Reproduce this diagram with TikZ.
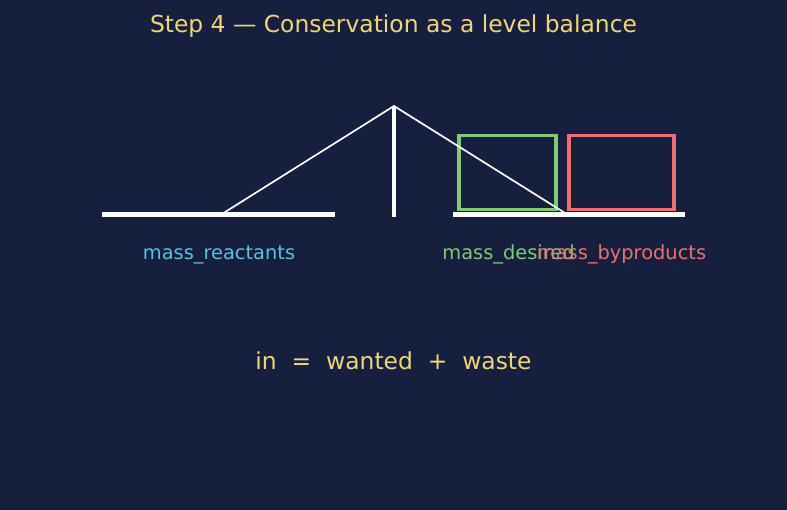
\documentclass[tikz,border=0pt]{standalone}
\usepackage{fontspec}
\setmainfont{DejaVu Sans}
\definecolor{bgnavy}{HTML}{16203E}
\definecolor{titleyellow}{HTML}{F0D478}
\definecolor{reactcyan}{HTML}{5BC0DE}
\definecolor{wantgreen}{HTML}{7DCB72}
\definecolor{wastered}{HTML}{EF6F6F}
\tikzset{
  beam/.style={draw=white, line width=5pt},
  lever/.style={draw=white, line width=1.7pt},
  pan/.style={draw, rectangle, line width=3.4pt, inner sep=0pt, minimum height=74pt},
  lbl/.style={font=\fontsize{19.4}{23}\selectfont},
  big/.style={font=\fontsize{23.4}{28}\selectfont, text=titleyellow}
}

\begin{document}
\begin{tikzpicture}[x=1pt, y=-1pt]
\fill[bgnavy] (0,0) rectangle (787,510);
\useasboundingbox (0,0) rectangle (787,510);
\node[big] (title) at (393.5,26.5) {Step 4 — Conservation as a level balance};
\coordinate (lbarA) at (102,215);
\coordinate (lbarB) at (335,215);
\coordinate (rbarA) at (453,215);
\coordinate (rbarB) at (685,215);
\coordinate (foot) at (394,217);
\coordinate (top) at (394,106);
\coordinate (lend) at (222,214);
\coordinate (rend) at (565,213);
\node[pan, draw=wantgreen, minimum width=97pt] (wanted) at (507.5,172.5) {};
\node[pan, draw=wastered, minimum width=105pt] (waste) at (621.5,172.5) {};
\path[draw,beam] (lbarA) -- (lbarB);
\path[draw,beam] (rbarA) -- (rbarB);
\path[draw,white,line width=3.2pt] (foot) -- (top);
\path[draw,lever] (lend) -- (top) -- (rend);
\node[lbl, text=reactcyan] (reactants) at (219,254.5) {mass\_reactants};
\node[lbl, text=wantgreen] (desired) at (508.5,254.5) {mass\_desired};
\node[lbl, text=wastered] (byproducts) at (621.5,254.5) {mass\_byproducts};
\node[big] (balance) at (393.5,360.5) {in\ \ =\ \ wanted\ \ +\ \ waste};
\end{tikzpicture}
\end{document}
